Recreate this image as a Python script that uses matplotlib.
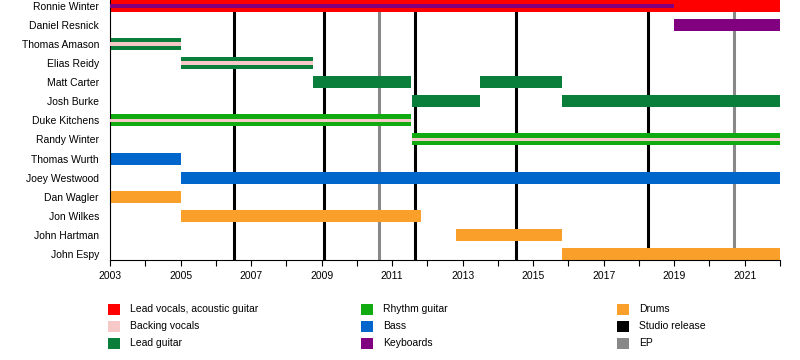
import matplotlib.pyplot as plt
from matplotlib.patches import Rectangle

plt.rcParams['font.family'] = ['Liberation Sans', 'DejaVu Sans']

# members, top to bottom
members = ['Ronnie Winter', 'Daniel Resnick', 'Thomas Amason', 'Elias Reidy',
           'Matt Carter', 'Josh Burke', 'Duke Kitchens', 'Randy Winter',
           'Thomas Wurth', 'Joey Westwood', 'Dan Wagler', 'Jon Wilkes',
           'John Hartman', 'John Espy']

roles = ['Lead vocals, acoustic guitar', 'Backing vocals', 'Lead guitar',
         'Rhythm guitar', 'Bass', 'Keyboards', 'Drums']
role_colors = ['#ff0000', '#f6c8c8', '#0a7f3c', '#11aa11', '#0066cc',
               '#800080', '#faa02a']

# main bars
bar_member = ['Ronnie Winter', 'Daniel Resnick', 'Thomas Amason', 'Elias Reidy',
              'Matt Carter', 'Matt Carter', 'Josh Burke', 'Josh Burke',
              'Duke Kitchens', 'Randy Winter', 'Thomas Wurth', 'Joey Westwood',
              'Dan Wagler', 'Jon Wilkes', 'John Hartman', 'John Espy']
bar_role = ['Lead vocals, acoustic guitar', 'Keyboards', 'Lead guitar', 'Lead guitar',
            'Lead guitar', 'Lead guitar', 'Lead guitar', 'Lead guitar',
            'Rhythm guitar', 'Rhythm guitar', 'Bass', 'Bass',
            'Drums', 'Drums', 'Drums', 'Drums']
bar_start = [2003, 2019.0, 2003, 2005, 2008.75, 2013.5, 2011.55, 2015.82,
             2003, 2011.55, 2003, 2005, 2003, 2005, 2012.82, 2015.82]
bar_end = [2022, 2022, 2005, 2008.75, 2011.55, 2015.82, 2013.5, 2022,
           2011.55, 2022, 2005, 2022, 2005, 2011.83, 2015.82, 2022]

# secondary roles drawn as thin stripes inside the bar
stripe_member = ['Ronnie Winter', 'Thomas Amason', 'Elias Reidy', 'Duke Kitchens', 'Randy Winter']
stripe_role = ['Keyboards', 'Backing vocals', 'Backing vocals', 'Backing vocals', 'Backing vocals']
stripe_start = [2003, 2003, 2005, 2003, 2011.55]
stripe_end = [2019.0, 2005, 2008.75, 2011.55, 2022]

studio_releases = [2006.52, 2009.08, 2011.66, 2014.5, 2018.25]
ep_releases = [2010.64, 2020.69]

color_of = dict(zip(roles, role_colors))
row_of = {m: i for i, m in enumerate(members)}

fig = plt.figure(figsize=(8, 3.6), dpi=100)
ax = fig.add_axes([0.1375, 0.278, 0.8375, 0.722])

for x in studio_releases:
    ax.axvline(x, color='black', linewidth=2.2, zorder=1)
for x in ep_releases:
    ax.axvline(x, color='#888888', linewidth=2.2, zorder=1)

ax.barh([row_of[m] for m in bar_member], [e - s for s, e in zip(bar_start, bar_end)],
        left=bar_start, height=0.63, color=[color_of[r] for r in bar_role],
        linewidth=0, zorder=2)
ax.barh([row_of[m] for m in stripe_member], [e - s for s, e in zip(stripe_start, stripe_end)],
        left=stripe_start, height=0.2, color=[color_of[r] for r in stripe_role],
        linewidth=0, zorder=3)

ax.set_xlim(2003, 2022)
ax.set_ylim(len(members) - 1 + 0.32, -0.32)
ax.set_yticks(range(len(members)))
ax.set_yticklabels(members, fontsize=7.5)
ax.set_xticks(range(2003, 2022, 2))
ax.set_xticks(range(2004, 2023, 2), minor=True)
ax.tick_params(axis='x', which='both', length=4, width=0.8, labelsize=7.5, pad=4)
ax.tick_params(axis='y', length=0, pad=8)
for side in ['top', 'right']:
    ax.spines[side].set_visible(False)
ax.spines['left'].set_linewidth(0.8)
ax.spines['bottom'].set_linewidth(0.8)

# legend: three columns
legend_labels = roles + ['Studio release', 'EP']
legend_colors = role_colors + ['black', '#888888']
col_x = [108, 361, 617]
row_y = [309, 326, 343]
for i, (lab, col) in enumerate(zip(legend_labels, legend_colors)):
    cx = col_x[i // 3]
    cy = row_y[i % 3]
    fig.add_artist(Rectangle((cx / 800, 1 - (cy + 5.5) / 360), 12 / 800, 11 / 360,
                             transform=fig.transFigure, color=col, linewidth=0))
    fig.text((cx + 22) / 800, 1 - cy / 360, lab, fontsize=7.5, va='center', ha='left')

fig.savefig('out.png', dpi=100)
